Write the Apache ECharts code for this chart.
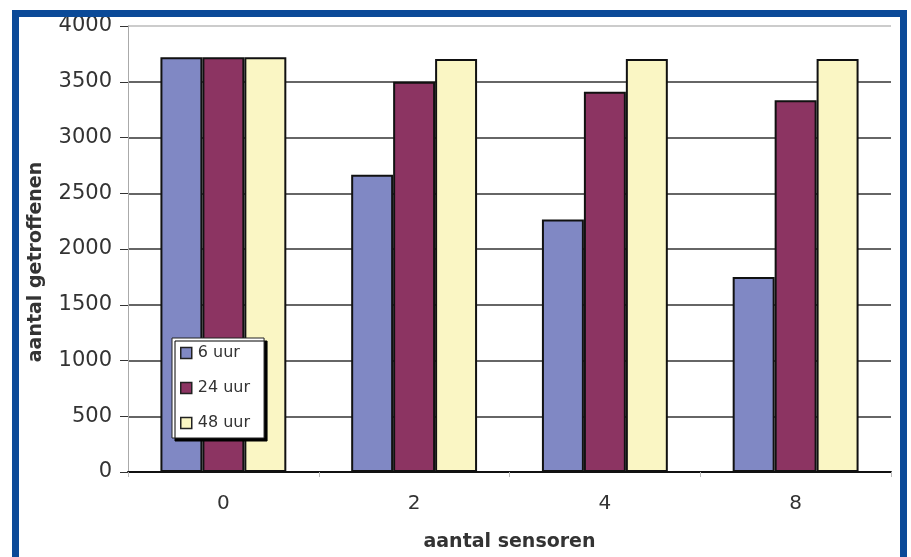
<!DOCTYPE html>
<html><head><meta charset="utf-8">
<script src="https://cdn.jsdelivr.net/npm/echarts@6/dist/echarts.min.js"></script>
<style>html,body{margin:0;padding:0;background:#fff}#c{width:911px;height:557px}</style>
</head><body><div id="c"></div>
<script>
const categories = ['0', '2', '4', '8'];
const seriesNames = ['6 uur', '24 uur', '48 uur'];
const uur6 = [3720, 2665, 2265, 1750];
const uur24 = [3720, 3500, 3410, 3335];
const uur48 = [3720, 3705, 3705, 3705];
const yTicks = [0, 500, 1000, 1500, 2000, 2500, 3000, 3500, 4000];
const colors = ['#8088c4', '#8c3462', '#faf6c4'];

const chart = echarts.init(document.getElementById('c'));
const font = 'DejaVu Sans, sans-serif';
const mk = (name, data, i) => ({
  name, type: 'bar', data, barGap: '0%', barCategoryGap: '34%',
  itemStyle: { color: colors[i], borderColor: '#111', borderWidth: 2 }
});
chart.setOption({
  animation: false,
  graphic: [{
    type: 'rect', z: 100, silent: true,
    shape: { x: 15.5, y: 13.5, width: 888, height: 560 },
    style: { fill: 'none', stroke: '#0b4a98', lineWidth: 7 }
  }],
  grid: { left: 128, right: 20, top: 26, bottom: 80 },
  legend: {
    orient: 'vertical', left: 172, top: 338,
    data: seriesNames,
    itemWidth: 11, itemHeight: 11, itemGap: 19,
    padding: [7, 14, 7, 8],
    backgroundColor: '#fff', borderColor: '#222', borderWidth: 1,
    shadowColor: '#000', shadowOffsetX: 3, shadowOffsetY: 3, shadowBlur: 0,
    itemStyle: { borderColor: '#222', borderWidth: 1.5 },
    textStyle: { fontFamily: font, fontSize: 16, color: '#333', padding: [0, 0, 0, 1] },
    icon: 'rect'
  },
  xAxis: {
    type: 'category', data: categories,
    name: 'aantal sensoren', nameLocation: 'middle', nameGap: 61,
    nameTextStyle: { fontFamily: font, fontSize: 19, fontWeight: 'bold', color: '#333' },
    axisLine: { lineStyle: { color: '#111', width: 2 } },
    axisTick: { show: true, alignWithLabel: false, length: 5, lineStyle: { color: '#bbb' } },
    axisLabel: { fontFamily: font, fontSize: 20, color: '#333', margin: 22 }
  },
  yAxis: {
    type: 'value', min: 0, max: 4000, interval: 500,
    name: 'aantal getroffenen', nameLocation: 'middle', nameGap: 82,
    nameTextStyle: { fontFamily: font, fontSize: 19, fontWeight: 'bold', color: '#333', padding: [0, 26, 0, 0] },
    axisLine: { show: true, lineStyle: { color: '#aaa', width: 1 } },
    axisTick: { show: true, length: 8, lineStyle: { color: '#333' } },
    axisLabel: { fontFamily: font, fontSize: 21, color: '#333', margin: 16,
      formatter: v => yTicks.includes(v) ? String(v) : '' },
    splitLine: { show: true, lineStyle: { color: ['#333','#333','#333','#333','#333','#333','#333','#333','#bbb'], width: 1.5 } }
  },
  series: [mk(seriesNames[0], uur6, 0), mk(seriesNames[1], uur24, 1), mk(seriesNames[2], uur48, 2)]
});
</script></body></html>
